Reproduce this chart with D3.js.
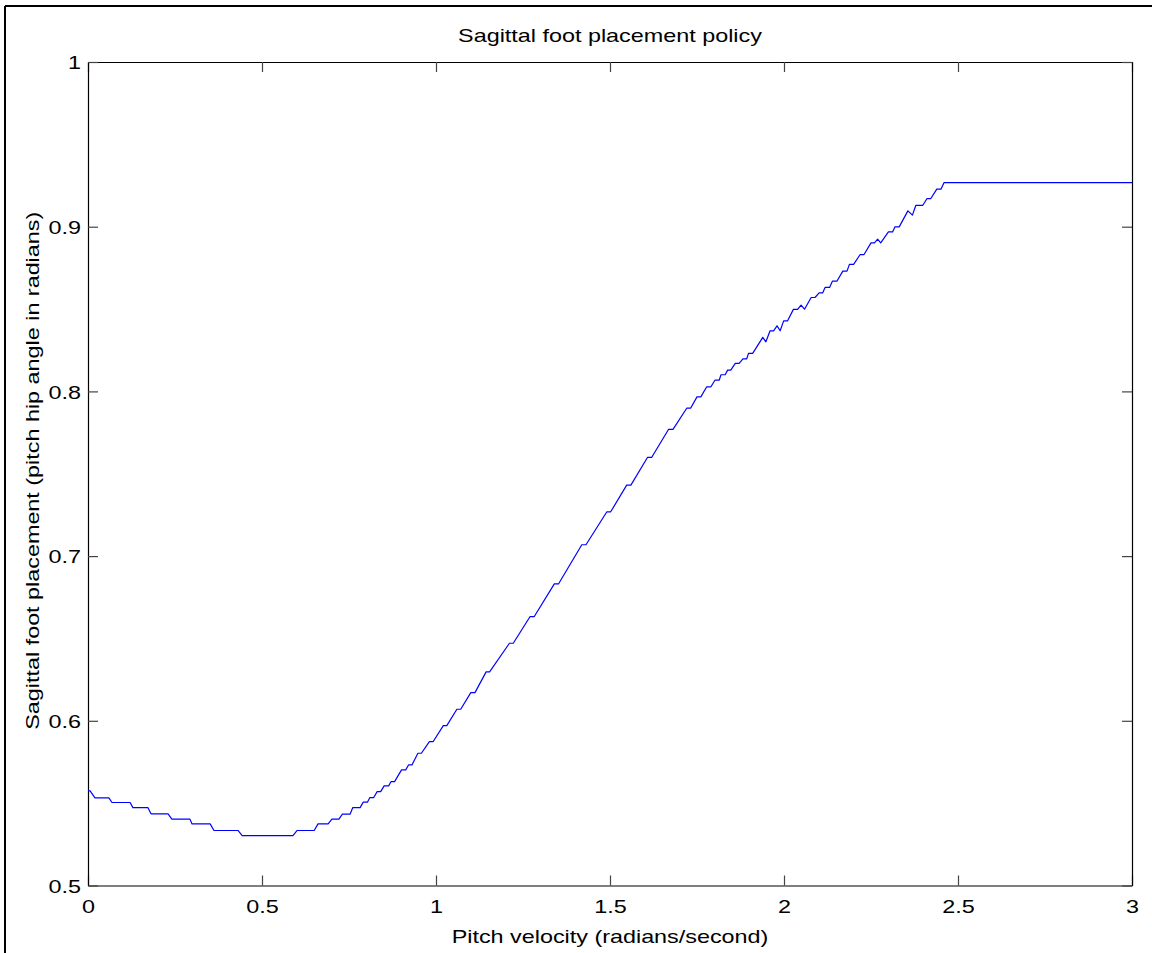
<!DOCTYPE html>
<html>
<head>
<meta charset="utf-8">
<script src="https://cdn.jsdelivr.net/npm/d3@7"></script>
<style>
  html, body { margin: 0; padding: 0; background: #fff; }
  svg { display: block; }
  text { font-family: "Liberation Sans", Arial, Helvetica, sans-serif; fill: #000; }
</style>
</head>
<body>
<svg id="chart" width="1152" height="953"></svg>
<script>
// Foot placement policy: pitch velocity (rad/s) -> hip pitch angle (rad)
const velocity = [
  0.000, 0.006, 0.020, 0.060, 0.069, 0.121, 0.129, 0.172, 0.181, 0.230,
  0.241, 0.293, 0.299, 0.351, 0.362, 0.431, 0.443, 0.589, 0.601, 0.650,
  0.661, 0.690, 0.701, 0.721, 0.731, 0.753, 0.761, 0.782, 0.791, 0.803,
  0.810, 0.821, 0.831, 0.841, 0.851, 0.864, 0.871, 0.881, 0.901, 0.913,
  0.921, 0.931, 0.948, 0.958, 0.981, 0.992, 1.021, 1.031, 1.060, 1.071,
  1.100, 1.112, 1.144, 1.154, 1.211, 1.222, 1.270, 1.282, 1.340, 1.352,
  1.419, 1.431, 1.491, 1.502, 1.548, 1.560, 1.608, 1.620, 1.668, 1.681,
  1.721, 1.732, 1.750, 1.761, 1.778, 1.790, 1.802, 1.814, 1.819, 1.831,
  1.838, 1.847, 1.860, 1.871, 1.882, 1.893, 1.898, 1.910, 1.939, 1.948,
  1.960, 1.970, 1.980, 1.989, 1.999, 2.010, 2.027, 2.039, 2.049, 2.059,
  2.078, 2.089, 2.101, 2.111, 2.118, 2.131, 2.139, 2.152, 2.169, 2.181,
  2.188, 2.200, 2.219, 2.230, 2.250, 2.260, 2.269, 2.278, 2.300, 2.312,
  2.319, 2.331, 2.356, 2.369, 2.379, 2.399, 2.411, 2.422, 2.439, 2.451,
  2.460, 3.000
];
const placement = [
  0.5575, 0.5575, 0.5532, 0.5532, 0.5504, 0.5504, 0.5473, 0.5473, 0.5435, 0.5435,
  0.5403, 0.5403, 0.5374, 0.5374, 0.5334, 0.5334, 0.5303, 0.5303, 0.5334, 0.5334,
  0.5374, 0.5374, 0.5403, 0.5403, 0.5433, 0.5433, 0.5473, 0.5473, 0.5506, 0.5506,
  0.5534, 0.5534, 0.5570, 0.5570, 0.5605, 0.5605, 0.5631, 0.5631, 0.5702, 0.5702,
  0.5732, 0.5732, 0.5803, 0.5803, 0.5874, 0.5874, 0.5971, 0.5971, 0.6070, 0.6070,
  0.6171, 0.6171, 0.6297, 0.6297, 0.6471, 0.6471, 0.6632, 0.6632, 0.6831, 0.6831,
  0.7069, 0.7069, 0.7269, 0.7269, 0.7431, 0.7431, 0.7600, 0.7600, 0.7769, 0.7769,
  0.7899, 0.7899, 0.7967, 0.7967, 0.8028, 0.8028, 0.8069, 0.8069, 0.8101, 0.8101,
  0.8129, 0.8129, 0.8170, 0.8170, 0.8198, 0.8198, 0.8231, 0.8231, 0.8328, 0.8301,
  0.8368, 0.8368, 0.8398, 0.8368, 0.8428, 0.8428, 0.8498, 0.8498, 0.8524, 0.8499,
  0.8570, 0.8570, 0.8598, 0.8598, 0.8631, 0.8631, 0.8669, 0.8669, 0.8730, 0.8730,
  0.8771, 0.8771, 0.8831, 0.8831, 0.8902, 0.8902, 0.8924, 0.8902, 0.8968, 0.8968,
  0.8999, 0.8999, 0.9096, 0.9070, 0.9130, 0.9130, 0.9171, 0.9171, 0.9228, 0.9228,
  0.9268, 0.9268
];
const xTicks = [0, 0.5, 1, 1.5, 2, 2.5, 3];
const xTickLabels = ["0", "0.5", "1", "1.5", "2", "2.5", "3"];
const yTicks = [0.5, 0.6, 0.7, 0.8, 0.9, 1];
const yTickLabels = ["0.5", "0.6", "0.7", "0.8", "0.9", "1"];

const titleText = "Sagittal foot placement policy";
const xLabelText = "Pitch velocity (radians/second)";
const yLabelText = "Sagittal foot placement (pitch hip angle in radians)";

const svg = d3.select("#chart");
const W = 1152, H = 953;
const plot = { left: 88, right: 1132, top: 62, bottom: 885.5 };
const tickLen = 10;
const fontSize = 19;
const stretch = 1.23;   // wide glyph rendering of the figure's text

// Figure frame (left and top edges)
svg.append("line").attr("x1", 5).attr("y1", 6).attr("x2", 5).attr("y2", H)
  .attr("stroke", "#000").attr("stroke-width", 2);
svg.append("line").attr("x1", 5).attr("y1", 6).attr("x2", W).attr("y2", 6)
  .attr("stroke", "#000").attr("stroke-width", 2);

const x = d3.scaleLinear().domain([0, 3]).range([plot.left, plot.right]);
const y = d3.scaleLinear().domain([0.5, 1]).range([plot.bottom, plot.top]);

const fmtX = (d) => xTickLabels[xTicks.indexOf(d)];
const fmtY = (d) => yTickLabels[yTicks.indexOf(d)];

// Bottom axis with labels, inward ticks
const gx = svg.append("g").attr("transform", `translate(0,${plot.bottom})`)
  .call(d3.axisBottom(x).tickValues(xTicks).tickFormat(fmtX)
    .tickSizeInner(-tickLen).tickSizeOuter(0).tickPadding(14.5));
// Top axis, ticks only
const gxt = svg.append("g").attr("transform", `translate(0,${plot.top})`)
  .call(d3.axisTop(x).tickValues(xTicks).tickFormat("")
    .tickSizeInner(-tickLen).tickSizeOuter(0));
// Left axis with labels
const gy = svg.append("g").attr("transform", `translate(${plot.left},0)`)
  .call(d3.axisLeft(y).tickValues(yTicks).tickFormat(fmtY)
    .tickSizeInner(-tickLen).tickSizeOuter(0).tickPadding(7));
// Right axis, ticks only
const gyr = svg.append("g").attr("transform", `translate(${plot.right},0)`)
  .call(d3.axisRight(y).tickValues(yTicks).tickFormat("")
    .tickSizeInner(-tickLen).tickSizeOuter(0));

[gx, gxt, gy, gyr].forEach(g => {
  g.selectAll(".domain").attr("stroke", "#000").attr("stroke-width", 1.2);
  g.selectAll(".tick line").attr("stroke", "#444").attr("stroke-width", 1.2);
  g.selectAll(".tick text").attr("font-size", fontSize).attr("fill", "#000")
    .style("font-family", '"Liberation Sans", Arial, sans-serif');
});
gx.selectAll(".tick text").attr("dy", "0.71em")
  .attr("transform", `scale(${stretch},1)`);
gy.selectAll(".tick text").attr("dy", "0.35em")
  .attr("x", -7 / stretch)
  .attr("transform", `scale(${stretch},1)`);

// Policy curve
const pts = velocity.map((v, i) => [v, placement[i]]);
const line = d3.line().x(d => x(d[0])).y(d => y(d[1]));
svg.append("path").datum(pts)
  .attr("d", line)
  .attr("fill", "none")
  .attr("stroke", "#0000ff")
  .attr("stroke-width", 1.2)
  .attr("stroke-linejoin", "round");

// Title and axis labels
const cx = (plot.left + plot.right) / 2;
svg.append("text")
  .attr("transform", `translate(${cx},42) scale(${stretch},1)`)
  .attr("text-anchor", "middle").attr("font-size", fontSize).text(titleText);
svg.append("text")
  .attr("transform", `translate(${cx},943) scale(${stretch},1)`)
  .attr("text-anchor", "middle").attr("font-size", fontSize).text(xLabelText);
svg.append("text")
  .attr("transform", `translate(39,${(plot.top + plot.bottom) / 2 - 3}) rotate(-90) scale(${stretch},1)`)
  .attr("text-anchor", "middle").attr("font-size", fontSize).text(yLabelText);
</script>
</body>
</html>
